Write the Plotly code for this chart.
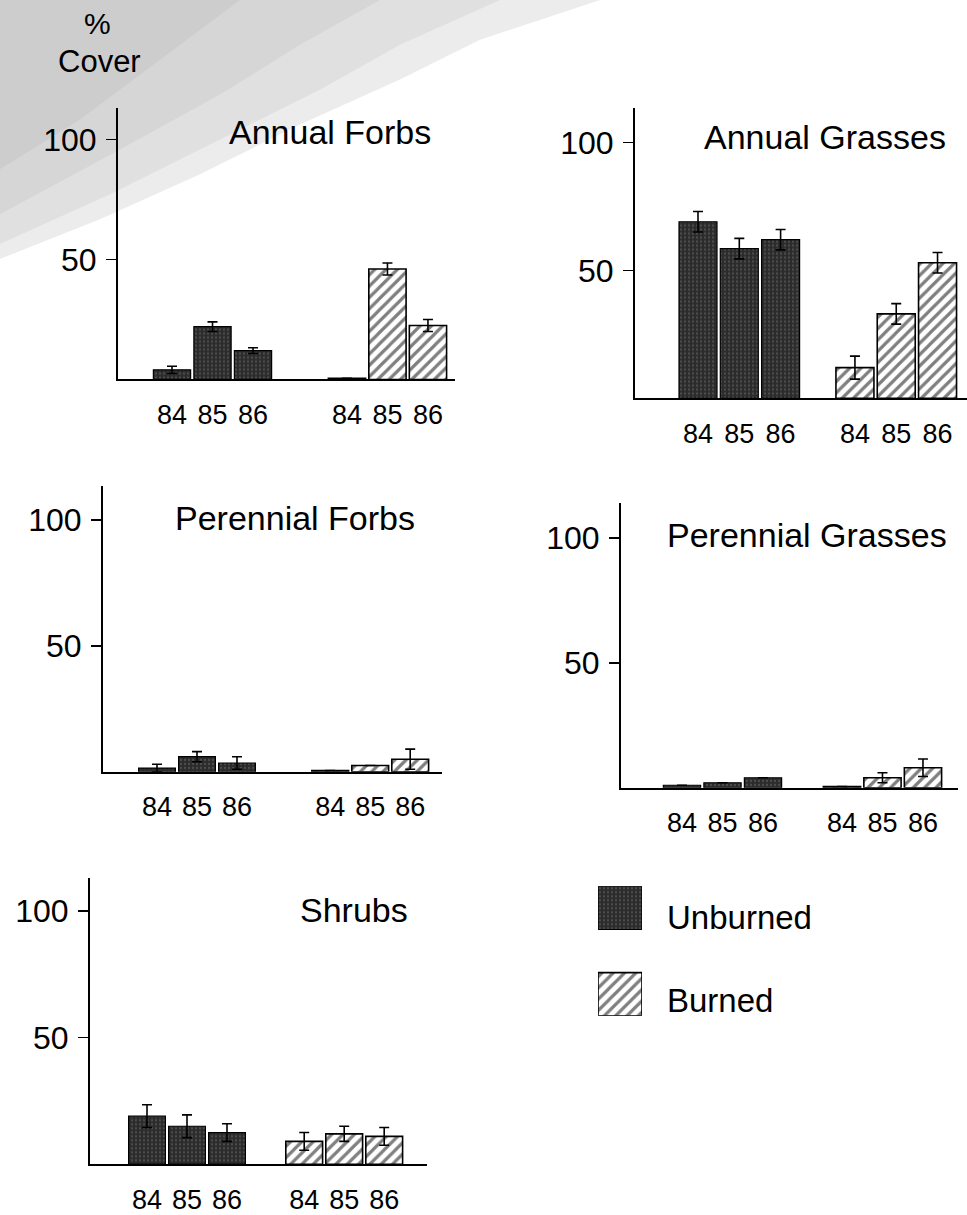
import plotly.graph_objects as go

W, H = 967, 1215

years = ["84", "85", "86"]
titles = ["Annual Forbs", "Annual Grasses", "Perennial Forbs", "Perennial Grasses", "Shrubs"]

unburned_af = [4, 22, 12]
unburned_af_err = [1.5, 2, 1.2]
burned_af = [0.5, 46, 22.5]
burned_af_err = [0, 2.5, 2.5]

unburned_ag = [69, 58.5, 62]
unburned_ag_err = [4, 4, 4]
burned_ag = [12, 33, 53]
burned_ag_err = [4.5, 4, 4]

unburned_pf = [1.5, 6, 3.5]
unburned_pf_err = [1.5, 2, 2.5]
burned_pf = [0.5, 2.5, 5]
burned_pf_err = [0, 0, 4]

unburned_pg = [1, 2, 4]
unburned_pg_err = [0, 0, 0]
burned_pg = [0.5, 4, 8]
burned_pg_err = [0, 2, 3.5]

unburned_sh = [19, 15, 12.5]
unburned_sh_err = [4.5, 4.5, 3.5]
burned_sh = [9, 12, 11]
burned_sh_err = [3.5, 3, 3.5]

series = [
    (unburned_af, unburned_af_err, burned_af, burned_af_err),
    (unburned_ag, unburned_ag_err, burned_ag, burned_ag_err),
    (unburned_pf, unburned_pf_err, burned_pf, burned_pf_err),
    (unburned_pg, unburned_pg_err, burned_pg, burned_pg_err),
    (unburned_sh, unburned_sh_err, burned_sh, burned_sh_err),
]

# pixel layout per panel: axis x, right end, first bar centre, bar spacing,
# burned group start (in spacing units), y of zero, y of 100, axis top, title pos
layout_px = [
    dict(ax=118, right=455, c0=172, unit=40.5, g=4.32, y0=381, y100=140, top=108, tx=227, ty=133),
    dict(ax=635, right=967, c0=698, unit=41.3, g=3.80, y0=400, y100=143, top=108, tx=702, ty=138),
    dict(ax=103, right=442, c0=157, unit=40.0, g=4.33, y0=775, y100=522, top=488, tx=173, ty=520),
    dict(ax=621, right=958, c0=682, unit=40.5, g=3.95, y0=791, y100=540, top=505, tx=665, ty=537),
    dict(ax=90, right=427, c0=147, unit=40.0, g=3.93, y0=1169, y100=915, top=882, tx=298, ty=914),
]

FONT = "Liberation Sans, Arial, sans-serif"
UNB = "#2b2b2b"

fig = go.Figure()
lay = {}

unb_marker = dict(color=UNB, line=dict(color="black", width=1.2),
                  pattern=dict(shape=".", fgcolor="#707070", bgcolor=UNB, size=4, solidity=0.25))
brn_marker = dict(color="white", line=dict(color="black", width=1.6),
                  pattern=dict(shape="/", fgcolor="black", bgcolor="white", size=8, solidity=0.4))

for i, (p, (ub, ube, bb, bbe)) in enumerate(zip(layout_px, series)):
    n = i + 1
    xs_u = [0, 1, 2]
    xs_b = [p["g"], p["g"] + 1, p["g"] + 2]
    xa = "x" if n == 1 else f"x{n}"
    ya = "y" if n == 1 else f"y{n}"
    fig.add_trace(go.Bar(
        x=xs_u, y=ub, width=0.92, xaxis=xa, yaxis=ya, showlegend=False, marker=unb_marker,
        error_y=dict(type="data", array=ube, symmetric=True, color="black", thickness=1.6, width=5),
    ))
    fig.add_trace(go.Bar(
        x=xs_b, y=bb, width=0.92, xaxis=xa, yaxis=ya, showlegend=False, marker=brn_marker,
        error_y=dict(type="data", array=bbe, symmetric=True, color="black", thickness=1.6, width=5),
    ))
    pxu = (p["y0"] - p["y100"]) / 100.0
    ymax = (p["y0"] - p["top"]) / pxu
    xmin = (p["ax"] - p["c0"]) / p["unit"]
    xmax = (p["right"] - p["c0"]) / p["unit"]
    xdom = [p["ax"] / W, min(1.0, p["right"] / W)]
    ydom = [1 - p["y0"] / H, 1 - p["top"] / H]
    xkey = "xaxis" if n == 1 else f"xaxis{n}"
    ykey = "yaxis" if n == 1 else f"yaxis{n}"
    lay[xkey] = dict(
        domain=xdom, range=[xmin, xmax], anchor=ya, showgrid=False, zeroline=False,
        showline=True, linecolor="black", linewidth=2, ticks="",
        tickvals=xs_u + xs_b, ticktext=years + years,
        tickfont=dict(family=FONT, size=27, color="black"), ticklabelstandoff=10,
    )
    lay[ykey] = dict(
        domain=ydom, range=[0, ymax], anchor=xa, showgrid=False, zeroline=False,
        showline=True, linecolor="black", linewidth=2,
        ticks="outside", ticklen=10, tickwidth=1.5, tickcolor="black",
        tickvals=[50, 100], ticktext=["50", "100"],
        tickfont=dict(family=FONT, size=32, color="black"), ticklabelstandoff=3,
    )
    # inside half of the crossing ticks
    lay[f"yaxis{n + 5}"] = dict(
        overlaying=ya, anchor=xa, side="left", range=[0, ymax], showgrid=False, zeroline=False,
        showline=False, ticks="inside", ticklen=10, tickwidth=1.5, tickcolor="black",
        tickvals=[50, 100], showticklabels=False,
    )
    fig.add_annotation(
        x=p["tx"] / W, y=1 - p["ty"] / H, xref="paper", yref="paper", text=titles[i],
        showarrow=False, xanchor="left", yanchor="middle",
        font=dict(family=FONT, size=34, color="black"),
    )

# legend swatches drawn as bars in a small hidden subplot
legend_names = ["Burned", "Unburned"]
legend_base = [0, 2]
fig.add_trace(go.Bar(
    x=[0], y=[1], base=[legend_base[1]], width=1, xaxis="x6", yaxis="y11", showlegend=False,
    marker=unb_marker,
))
fig.add_trace(go.Bar(
    x=[0], y=[1], base=[legend_base[0]], width=1, xaxis="x6", yaxis="y11", showlegend=False,
    marker=brn_marker,
))
lay["xaxis6"] = dict(domain=[598 / W, 642 / W], range=[-0.5, 0.5], anchor="y11", visible=False)
lay["yaxis11"] = dict(domain=[1 - 1020 / H, 1 - 890 / H], range=[0, 3], anchor="x6", visible=False)
fig.add_annotation(x=665 / W, y=1 - 921 / H, xref="paper", yref="paper", text=legend_names[1],
                   showarrow=False, xanchor="left", yanchor="middle",
                   font=dict(family=FONT, size=33, color="black"))
fig.add_annotation(x=665 / W, y=1 - 1005 / H, xref="paper", yref="paper", text=legend_names[0],
                   showarrow=False, xanchor="left", yanchor="middle",
                   font=dict(family=FONT, size=33, color="black"))

# "% Cover" label
fig.add_annotation(x=97 / W, y=1 - 24 / H, xref="paper", yref="paper", text="%",
                   showarrow=False, xanchor="center", yanchor="middle",
                   font=dict(family=FONT, size=30, color="black"))
fig.add_annotation(x=99 / W, y=1 - 62 / H, xref="paper", yref="paper", text="Cover",
                   showarrow=False, xanchor="center", yanchor="middle",
                   font=dict(family=FONT, size=31, color="black"))

# scanned-page shading in the top-left corner
def ppath(pts):
    return "M " + " L ".join(f"{x / W:.4f},{1 - y / H:.4f}" for x, y in pts) + " Z"

shades = [
    ([(0, 0), (600, 0), (480, 40), (400, 80), (300, 125), (200, 175), (100, 220), (0, 260)], "#ececec"),
    ([(0, 0), (500, 0), (400, 45), (320, 90), (220, 140), (110, 195), (0, 245)], "#e0e0e0"),
    ([(0, 0), (380, 0), (300, 45), (220, 95), (120, 150), (0, 215)], "#d6d6d6"),
    ([(0, 0), (240, 0), (160, 60), (80, 120), (0, 170)], "#cdcdcd"),
]
shapes = []
for pts, col in shades:
    shapes.append(dict(type="path", xref="paper", yref="paper", path=ppath(pts),
                       fillcolor=col, line=dict(width=0), layer="below"))

fig.update_layout(
    width=W, height=H, margin=dict(l=0, r=0, t=0, b=0),
    paper_bgcolor="white", plot_bgcolor="rgba(0,0,0,0)",
    barmode="overlay", bargap=0, showlegend=False,
    shapes=shapes, **lay,
)

fig.write_html(
    "out.html",
    config={"displayModeBar": False, "staticPlot": True},
    post_script="document.body.style.margin='0px';document.body.style.overflow='hidden';",
)
